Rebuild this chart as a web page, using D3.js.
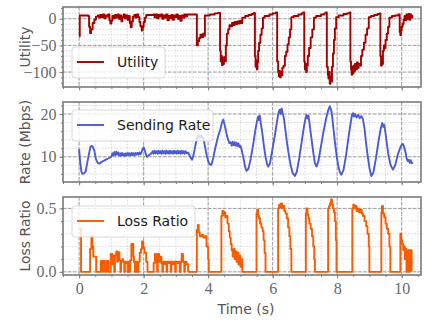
<!DOCTYPE html>
<html>
<head>
<meta charset="utf-8">
<script src="https://cdn.jsdelivr.net/npm/d3@7"></script>
<style>
  body { margin: 0; background: #fff; }
  svg { display: block; }
  .tick-label { font-family: "Liberation Serif", serif; font-size: 16px; fill: #6a6a6a; }
  .axis-label { font-family: "DejaVu Sans", sans-serif; font-size: 14px; fill: #555; }
  .legend-text { font-family: "DejaVu Sans", sans-serif; font-size: 14px; fill: #1a1a1a; }
</style>
</head>
<body>
<svg width="427" height="322"></svg>
<script>
// time (s), value pairs
const utility = [
  [0.00,-33],[0.02,6],[0.28,5],[0.31,-15],[0.34,-27],[0.37,-20],[0.42,-8],[0.47,-2],[0.52,4],[0.58,6],
  [0.62,2],[0.66,7],[0.70,3],[0.74,8],[0.78,1],[0.82,6],[0.86,4],[0.90,8],[0.94,-3],[0.97,-9],
  [1.00,-4],[1.03,5],[1.07,1],[1.11,7],[1.15,2],[1.19,8],[1.23,0],[1.27,6],[1.31,-5],[1.34,3],
  [1.38,8],[1.42,1],[1.46,6],[1.50,-2],[1.54,5],[1.57,-8],[1.60,-16],[1.63,-5],[1.67,4],[1.71,7],
  [1.75,2],[1.79,8],[1.83,3],[1.87,-6],[1.90,-14],[1.94,-22],[1.97,-15],[2.00,-6],[2.04,2],[2.08,7],
  [2.30,8],[2.34,3],[2.38,8],[2.42,1],[2.46,7],[2.50,4],[2.54,8],[2.58,0],[2.62,6],[2.66,2],
  [2.70,8],[2.74,-3],[2.78,5],[2.82,1],[2.86,7],[2.90,-2],[2.94,6],[2.98,3],[3.02,8],[3.06,0],
  [3.10,5],[3.14,-4],[3.18,6],[3.22,2],[3.26,8],[3.30,4],[3.35,8],[3.65,-50],[3.68,-42],[3.72,-36],
  [3.76,-30],[3.80,-35],[3.84,-28],[3.88,-32],[3.90,6],[4.05,8],[4.20,10],[4.30,11],
  [4.37,-60],[4.39,-80],[4.41,-70],[4.43,-87],[4.45,-75],[4.47,-85],[4.49,-72],[4.51,-80],[4.55,-50],[4.58,-28],
  [4.62,-20],[4.66,-12],[4.70,-14],[4.74,-8],[4.78,-12],[4.82,-6],[4.86,-10],[4.90,-5],[4.94,-9],[4.98,-4],
  [5.02,-8],[5.06,2],[5.15,5],[5.25,7],[5.35,9],[5.42,11],
  [5.45,-70],[5.47,-90],[5.49,-78],[5.51,-95],[5.53,-82],[5.55,-60],[5.58,-45],[5.62,-30],[5.66,-18],[5.70,2],
  [5.75,5],[5.90,8],[6.00,10],[6.10,12],
  [6.14,-80],[6.17,-100],[6.19,-108],[6.21,-98],[6.23,-110],[6.25,-100],[6.27,-106],[6.30,-92],[6.34,-88],[6.38,-70],
  [6.42,-62],[6.46,-48],[6.50,-35],[6.54,-20],[6.58,3],[6.65,5],[6.80,8],[6.90,10],[6.95,12],
  [6.98,-80],[7.00,-95],[7.02,-85],[7.04,-100],[7.06,-88],[7.09,-70],[7.13,-55],[7.18,-35],[7.23,-20],[7.28,2],
  [7.35,5],[7.50,8],[7.60,10],[7.65,12],
  [7.68,-90],[7.71,-105],[7.73,-112],[7.75,-100],[7.77,-122],[7.79,-108],[7.81,-118],[7.84,-90],[7.87,-65],[7.90,-40],
  [7.93,-18],[7.97,3],[8.05,6],[8.20,9],[8.30,10],[8.38,12],
  [8.41,-80],[8.43,-95],[8.45,-105],[8.47,-90],[8.49,-102],[8.51,-88],[8.53,-98],[8.55,-85],[8.58,-95],[8.61,-82],
  [8.64,-92],[8.67,-85],[8.70,-88],[8.74,-70],[8.78,-58],[8.83,-45],[8.88,-30],[8.93,-18],[8.98,3],[9.05,5],
  [9.15,7],[9.25,9],[9.32,10],
  [9.34,-70],[9.36,-88],[9.38,-75],[9.40,-85],[9.42,-60],[9.45,-50],[9.48,-55],[9.50,-40],[9.54,-28],[9.58,-15],
  [9.62,2],[9.70,5],[9.80,6],[9.90,8],
  [9.94,-25],[9.96,-31],[9.98,-22],[10.00,-15],[10.03,-10],[10.06,-2],[10.09,5],[10.12,-3],[10.15,8],[10.18,0],
  [10.21,9],[10.24,-2],[10.27,8],[10.30,2],[10.33,7]
];

const sendingRate = [
  [0.00,11.8],[0.03,9.0],[0.07,6.5],[0.10,6.0],[0.15,6.1],[0.20,6.5],[0.25,8.5],[0.30,10.5],[0.35,12.3],[0.39,12.6],
  [0.43,12.2],[0.47,11.5],[0.52,9.5],[0.57,8.6],[0.62,8.4],[0.70,8.8],[0.80,9.2],[0.90,9.6],[1.00,10.0],
  [1.03,10.8],[1.06,10.3],[1.09,11.1],[1.12,10.4],[1.15,11.2],[1.18,10.5],[1.21,11.0],[1.24,10.3],[1.27,10.8],[1.30,10.2],
  [1.33,10.9],[1.36,10.3],[1.39,10.7],[1.42,10.2],[1.45,10.8],[1.48,10.3],[1.51,10.9],[1.54,10.4],[1.57,10.8],[1.60,10.3],
  [1.63,10.9],[1.66,10.4],[1.69,10.8],[1.72,10.3],[1.75,10.9],[1.78,10.5],[1.81,10.9],[1.84,10.5],[1.87,11.0],[1.90,10.6],
  [1.93,11.0],[1.97,11.8],[2.00,12.2],[2.03,11.6],[2.07,10.6],[2.10,10.0],[2.14,10.2],[2.20,10.6],[2.25,10.9],
  [2.28,11.3],[2.31,10.7],[2.34,11.4],[2.37,10.8],[2.40,11.3],[2.43,10.7],[2.46,11.4],[2.49,10.8],[2.52,11.3],[2.55,10.7],
  [2.58,11.4],[2.61,10.8],[2.64,11.3],[2.67,10.7],[2.70,11.4],[2.73,10.8],[2.76,11.3],[2.79,10.7],[2.82,11.4],[2.85,10.8],
  [2.88,11.3],[2.91,10.7],[2.94,11.4],[2.97,10.8],[3.00,11.3],[3.03,10.7],[3.06,11.4],[3.09,10.8],[3.12,11.3],[3.15,10.7],
  [3.18,11.4],[3.21,10.8],[3.24,11.3],[3.27,10.7],[3.30,11.3],[3.34,10.8],[3.38,11.0],[3.42,10.4],[3.47,9.6],[3.50,9.3],
  [3.55,10.5],[3.60,12.5],[3.65,14.2],[3.70,15.2],[3.74,14.4],[3.78,15.0],[3.82,14.5],[3.86,14.2],[3.90,12.5],[3.95,10.5],
  [4.00,9.0],[4.05,8.2],[4.10,8.1],[4.15,9.5],[4.22,12.0],[4.30,14.5],[4.38,16.5],[4.43,18.0],[4.47,18.7],[4.50,17.8],
  [4.54,16.5],[4.58,15.0],[4.62,14.0],[4.66,13.2],[4.70,13.4],[4.73,12.6],[4.76,13.5],[4.79,12.7],[4.82,13.4],[4.85,12.6],
  [4.88,13.3],[4.91,12.5],[4.94,13.1],[4.97,12.3],[5.00,12.6],[5.04,11.6],[5.10,9.5],[5.15,7.5],[5.19,6.7],[5.25,7.2],
  [5.32,9.5],[5.40,13.0],[5.47,16.5],[5.52,18.5],[5.55,19.4],[5.57,18.6],[5.60,19.6],[5.63,18.0],[5.68,15.5],[5.73,12.5],
  [5.78,10.0],[5.83,8.2],[5.86,7.7],[5.92,8.5],[6.00,12.0],[6.08,15.5],[6.14,18.5],[6.18,20.2],[6.22,21.0],[6.25,20.0],
  [6.28,21.3],[6.31,20.2],[6.35,19.0],[6.40,16.0],[6.45,13.0],[6.50,10.5],[6.56,8.0],[6.62,6.2],[6.69,5.5],[6.75,6.5],
  [6.82,9.5],[6.90,13.5],[6.97,17.0],[7.02,19.0],[7.05,19.8],[7.08,19.0],[7.11,19.6],[7.14,18.0],[7.20,14.5],[7.26,11.0],
  [7.31,8.5],[7.36,7.7],[7.42,9.0],[7.50,12.5],[7.58,16.0],[7.66,19.0],[7.72,20.8],[7.77,21.8],[7.80,21.2],[7.83,20.5],
  [7.88,17.0],[7.93,13.5],[7.98,10.5],[8.03,8.0],[8.08,6.5],[8.13,5.8],[8.20,7.0],[8.28,10.5],[8.35,14.5],[8.42,18.0],
  [8.46,19.8],[8.49,20.2],[8.52,19.4],[8.55,20.0],[8.60,19.2],[8.65,19.8],[8.70,19.0],[8.75,19.5],[8.80,18.8],[8.85,16.5],
  [8.90,13.0],[8.95,10.0],[9.00,7.5],[9.06,5.5],[9.12,6.2],[9.20,9.5],[9.28,13.5],[9.35,16.5],[9.40,17.9],[9.43,17.0],
  [9.46,17.5],[9.50,15.5],[9.55,12.5],[9.60,10.0],[9.66,8.0],[9.73,7.0],[9.80,8.0],[9.88,10.5],[9.95,12.0],[10.00,12.8],
  [10.04,13.0],[10.08,12.2],[10.12,11.0],[10.16,9.5],[10.19,9.0],[10.22,9.3],[10.25,8.6],[10.28,9.2],[10.31,8.5],[10.35,8.7]
];

const lossRatio = [
  [0.00,0.34],[0.06,0],[0.34,0.18],[0.38,0.28],[0.41,0.20],[0.44,0.12],[0.53,0],
  [0.67,0.085],[0.72,0],[0.74,0.085],[0.80,0],[0.86,0.085],[0.91,0],
  [0.98,0.14],[1.03,0.06],[1.05,0.13],[1.09,0],[1.11,0.13],[1.15,0.16],[1.18,0.08],[1.20,0.155],[1.25,0.09],[1.28,0],
  [1.30,0.08],[1.34,0.10],[1.36,0.08],[1.40,0],[1.42,0.08],[1.46,0.07],[1.50,0],[1.52,0.08],[1.56,0],[1.58,0.09],
  [1.62,0.22],[1.68,0.12],[1.70,0.08],[1.73,0],[1.76,0.08],[1.80,0],[1.84,0.08],[1.88,0.15],[1.92,0.18],[1.95,0.24],
  [1.99,0.19],[2.03,0.15],[2.08,0.08],[2.12,0],
  [2.31,0.07],[2.35,0.14],[2.39,0.08],[2.42,0],[2.44,0.14],[2.48,0.08],[2.52,0.12],[2.55,0.07],[2.58,0],[2.60,0.08],
  [2.64,0.06],[2.67,0.08],[2.71,0],[2.73,0.08],[2.77,0.07],[2.80,0.08],[2.84,0],[2.86,0.08],[2.90,0.06],[2.94,0.08],
  [2.98,0],[3.00,0.08],[3.04,0.07],[3.08,0.08],[3.12,0],[3.15,0.08],[3.18,0.14],[3.22,0.08],[3.26,0],[3.28,0.08],
  [3.33,0.06],[3.38,0],
  [3.65,0.33],[3.68,0.37],[3.71,0.31],[3.74,0.28],[3.80,0.29],[3.85,0.27],[3.90,0.28],[3.95,0.20],[4.00,0.10],[4.02,0],
  [4.41,0.44],[4.44,0.48],[4.47,0.45],[4.50,0.47],[4.53,0.43],[4.57,0.44],[4.60,0.38],[4.64,0.32],[4.67,0.27],[4.70,0.22],
  [4.73,0.17],[4.76,0.12],[4.79,0.18],[4.82,0.10],[4.85,0.16],[4.88,0.08],[4.91,0.15],[4.94,0.06],[4.97,0.13],[5.00,0.04],
  [5.03,0.10],[5.06,0],
  [5.50,0.46],[5.52,0.49],[5.55,0.44],[5.58,0.42],[5.61,0.38],[5.65,0.35],[5.69,0.32],[5.72,0.25],[5.75,0.15],[5.78,0],
  [6.17,0.50],[6.20,0.53],[6.23,0.51],[6.26,0.54],[6.29,0.50],[6.32,0.52],[6.36,0.48],[6.40,0.46],[6.44,0.42],[6.48,0.35],
  [6.52,0.28],[6.55,0.18],[6.58,0],
  [7.03,0.46],[7.05,0.50],[7.08,0.45],[7.11,0.42],[7.14,0.38],[7.18,0.34],[7.22,0.28],[7.26,0.20],[7.29,0.10],[7.31,0],
  [7.72,0.50],[7.75,0.52],[7.78,0.54],[7.81,0.57],[7.84,0.53],[7.87,0.50],[7.90,0.47],[7.93,0.40],[7.96,0.25],[7.98,0],
  [8.47,0.50],[8.50,0.53],[8.53,0.50],[8.56,0.52],[8.60,0.48],[8.64,0.50],[8.68,0.47],[8.72,0.49],[8.76,0.46],[8.80,0.44],
  [8.85,0.40],[8.90,0.36],[8.94,0.30],[8.98,0.20],[9.00,0],
  [9.37,0.47],[9.39,0.52],[9.42,0.46],[9.46,0.43],[9.50,0.38],[9.54,0.34],[9.58,0.30],[9.62,0.20],[9.65,0],
  [9.96,0.30],[9.99,0.25],[10.02,0.22],[10.05,0.17],[10.08,0.20],[10.10,0.10],[10.13,0.18],[10.15,0],[10.17,0.15],[10.19,0],
  [10.21,0.17],[10.23,0],[10.25,0.17],[10.27,0.02],[10.29,0.17],[10.31,0]
];

const xMajorTicks = [0, 2, 4, 6, 8, 10];

const panels = [
  { data: utility, name: "Utility", ylabel: "Utility", color: "#a30000", curve: d3.curveStepAfter,
    top: 7, bottom: 87, domain: [-128, 22], major: [-100, -50, 0], minorStep: 10,
    legend: { y: 47, w: 93 } },
  { data: sendingRate, name: "Sending Rate", ylabel: "Rate (Mbps)", color: "#4a5bd4", curve: d3.curveLinear,
    top: 102, bottom: 182, domain: [4.1, 22.8], major: [10, 20], minorStep: 2,
    legend: { y: 110, w: 141 } },
  { data: lossRatio, name: "Loss Ratio", ylabel: "Loss Ratio", color: "#f85c00", curve: d3.curveStepAfter,
    top: 197, bottom: 275, domain: [-0.025, 0.59], major: [0, 0.5], minorStep: 0.1,
    legend: { y: 206, w: 123 } }
];

const left = 63, right = 421;
const svg = d3.select("svg");

const x = d3.scaleLinear().domain([-0.5, 10.6]).range([left, right]);
const xMinor = d3.range(-0.5, 10.6, 0.5);

panels.forEach((p, i) => {
  const y = d3.scaleLinear().domain(p.domain).range([p.bottom, p.top]);
  const yMinor = d3.range(Math.ceil(p.domain[0] / p.minorStep) * p.minorStep, p.domain[1], p.minorStep)
    .map(v => +v.toFixed(4));
  const g = svg.append("g");

  // minor grid
  g.selectAll(".vminor").data(xMinor).join("line")
    .attr("x1", d => x(d)).attr("x2", d => x(d)).attr("y1", p.top).attr("y2", p.bottom)
    .attr("stroke", "#d0d0d0").attr("stroke-width", 0.8).attr("stroke-dasharray", "1.5,1.5");
  g.selectAll(".hminor").data(yMinor).join("line")
    .attr("x1", left).attr("x2", right).attr("y1", d => y(d)).attr("y2", d => y(d))
    .attr("stroke", "#d0d0d0").attr("stroke-width", 0.8).attr("stroke-dasharray", "1.5,1.5");
  // major grid
  g.selectAll(".vmajor").data(xMajorTicks).join("line")
    .attr("x1", d => x(d)).attr("x2", d => x(d)).attr("y1", p.top).attr("y2", p.bottom)
    .attr("stroke", "#a0a0a0").attr("stroke-width", 1).attr("stroke-dasharray", "3.5,1.5");
  g.selectAll(".hmajor").data(p.major).join("line")
    .attr("x1", left).attr("x2", right).attr("y1", d => y(d)).attr("y2", d => y(d))
    .attr("stroke", "#a0a0a0").attr("stroke-width", 1).attr("stroke-dasharray", "3.5,1.5");

  // data line
  const line = d3.line().x(d => x(d[0])).y(d => y(d[1])).curve(p.curve);
  g.append("path").datum(p.data)
    .attr("fill", "none").attr("stroke", p.color).attr("stroke-width", 1.9)
    .attr("stroke-linejoin", "round").attr("d", line);

  // axes
  const yAxis = g.append("g").attr("transform", `translate(${left},0)`)
    .call(d3.axisLeft(y).tickValues(p.major).tickSize(3.5).tickPadding(3)
      .tickFormat(d => d3.format(p.minorStep < 1 ? ".1f" : "d")(d)));
  const yMinorAxis = g.append("g").attr("transform", `translate(${left},0)`)
    .call(d3.axisLeft(y).tickValues(yMinor).tickSize(2).tickFormat(""));
  const xMinorAxis = g.append("g").attr("transform", `translate(0,${p.bottom})`)
    .call(d3.axisBottom(x).tickValues(xMinor).tickSize(2).tickFormat(""));
  const xAxis = g.append("g").attr("transform", `translate(0,${p.bottom})`)
    .call(d3.axisBottom(x).tickValues(xMajorTicks).tickSize(3.5).tickPadding(4)
      .tickFormat(i === 2 ? d3.format("d") : ""));
  [yAxis, yMinorAxis, xMinorAxis, xAxis].forEach(ax => {
    ax.select(".domain").remove();
    ax.selectAll(".tick line").attr("stroke", "#808080").attr("stroke-width", 1);
    ax.selectAll(".tick text").attr("class", "tick-label")
      .attr("fill", null).attr("font-family", null).attr("font-size", null);
  });
  yAxis.attr("font-family", null).attr("font-size", null);
  xAxis.attr("font-family", null).attr("font-size", null);

  // frame
  g.append("rect").attr("x", left).attr("y", p.top).attr("width", right - left).attr("height", p.bottom - p.top)
    .attr("fill", "none").attr("stroke", "#7a7a7a").attr("stroke-width", 1.6);

  // y label
  g.append("text").attr("class", "axis-label")
    .attr("transform", `translate(30,${(p.top + p.bottom) / 2}) rotate(-90)`)
    .attr("text-anchor", "middle").text(p.ylabel);

  // legend
  const lg = g.append("g");
  lg.append("rect").attr("x", 72).attr("y", p.legend.y).attr("width", p.legend.w).attr("height", 31)
    .attr("rx", 3).attr("fill", "#fff").attr("fill-opacity", 0.8).attr("stroke", "#d0d0d0").attr("stroke-width", 0.8);
  lg.append("line").attr("x1", 77).attr("x2", 104).attr("y1", p.legend.y + 15).attr("y2", p.legend.y + 15)
    .attr("stroke", p.color).attr("stroke-width", 1.9);
  lg.append("text").attr("class", "legend-text").attr("x", 117).attr("y", p.legend.y + 20).text(p.name);
});

svg.append("text").attr("class", "axis-label").attr("x", 246).attr("y", 314)
  .attr("text-anchor", "middle").text("Time (s)");
</script>
</body>
</html>
